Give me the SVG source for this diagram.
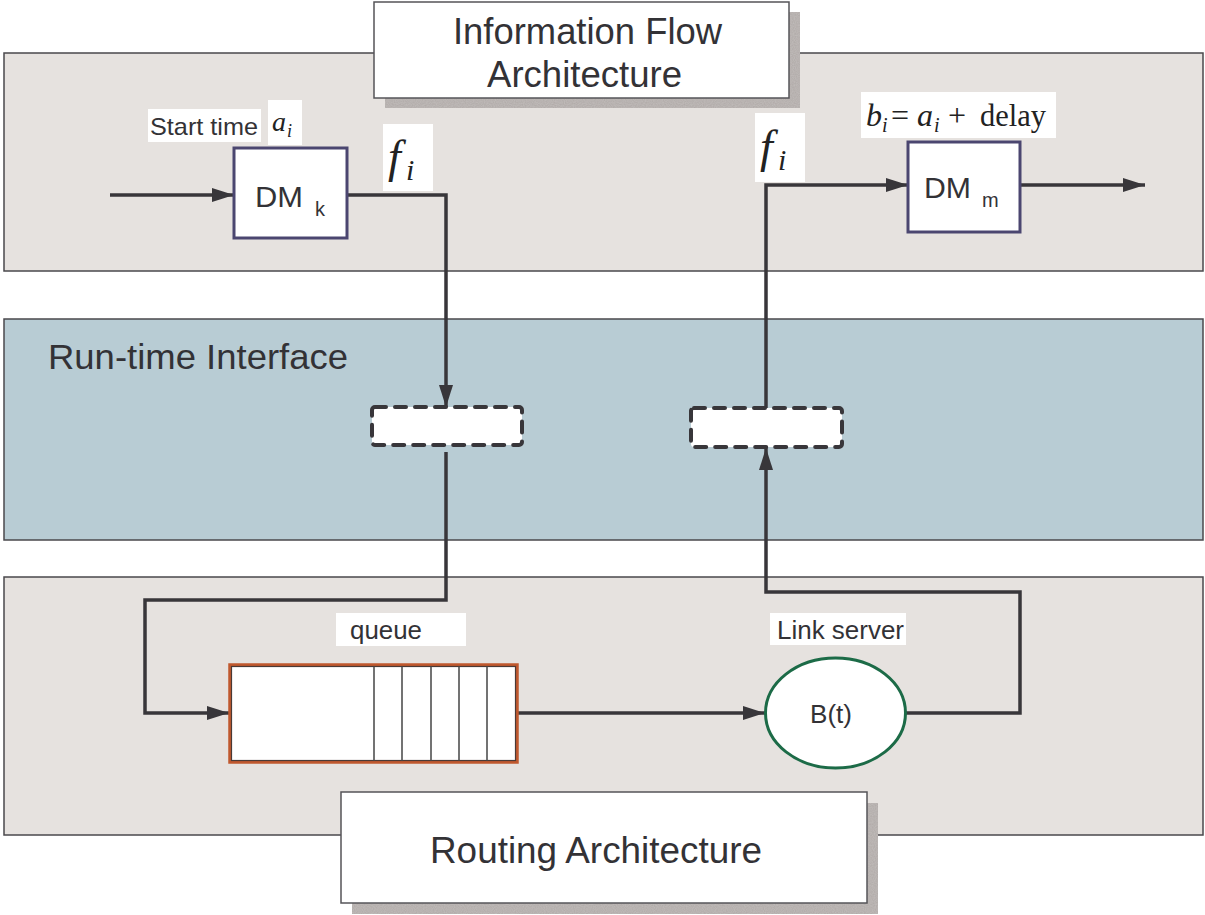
<svg xmlns="http://www.w3.org/2000/svg" width="1205" height="915" viewBox="0 0 1205 915">
  <defs>
    <style>
      .band { stroke: #4a484c; stroke-width: 1.5; }
      .wire { fill: none; stroke: #38363a; stroke-width: 3.5; stroke-linejoin: miter; }
      .sans { font-family: "Liberation Sans", Arial, sans-serif; fill: #333236; }
      .serif { font-family: "Liberation Serif", "Times New Roman", serif; fill: #222; }
      .lbl { fill: #ffffff; }
      .dm { fill: #ffffff; stroke: #4b4670; stroke-width: 3; }
      .slot { fill: #ffffff; stroke: #38363a; stroke-width: 4; stroke-dasharray: 11 9; stroke-linecap: round; stroke-linejoin: round; }
      .shadow { fill: #aea7a5; }
      .title { fill: #ffffff; stroke: #555458; stroke-width: 1.5; }
      .div { stroke: #444; stroke-width: 1.5; }
    </style>
    <filter id="grain" x="0" y="0" width="100%" height="100%">
      <feTurbulence type="fractalNoise" baseFrequency="0.9" numOctaves="1" seed="3" result="n"/>
      <feColorMatrix in="n" type="matrix" values="0 0 0 0 0.62  0 0 0 0 0.6  0 0 0 0 0.59  0 0 0 0.6 0" result="c"/>
      <feComposite in="c" in2="SourceGraphic" operator="in" result="m"/>
      <feMerge><feMergeNode in="SourceGraphic"/><feMergeNode in="m"/></feMerge>
    </filter>
    <marker id="arrow" markerUnits="userSpaceOnUse" markerWidth="24" markerHeight="16" refX="22" refY="8" orient="auto">
      <path d="M0,1 L22,8 L0,15 z" fill="#38363a"/>
    </marker>
  </defs>

  <!-- layer bands -->
  <g id="band-information">
    <rect class="band" x="4" y="53" width="1199" height="218" fill="#e6e2df"/>
  </g>
  <g id="band-runtime">
    <rect class="band" x="4" y="319" width="1199" height="221" fill="#b8ccd4"/>
    <text class="sans" x="48" y="369" font-size="35" textLength="300" lengthAdjust="spacingAndGlyphs">Run-time Interface</text>
  </g>
  <g id="band-routing">
    <rect class="band" x="4" y="577" width="1199" height="258" fill="#e6e2df"/>
  </g>

  <!-- layer titles -->
  <g id="title-information">
    <rect class="shadow" x="385" y="12" width="415" height="96" filter="url(#grain)"/>
    <rect class="title" x="374" y="2" width="415" height="96"/>
    <text class="sans" x="453" y="44" font-size="36" textLength="269" lengthAdjust="spacingAndGlyphs">Information Flow</text>
    <text class="sans" x="487" y="87" font-size="36" textLength="195" lengthAdjust="spacingAndGlyphs">Architecture</text>
  </g>
  <g id="title-routing">
    <rect class="shadow" x="352" y="803" width="526" height="111" filter="url(#grain)"/>
    <rect class="title" x="341" y="792" width="526" height="111"/>
    <text class="sans" x="430" y="863" font-size="36" textLength="332" lengthAdjust="spacingAndGlyphs">Routing Architecture</text>
  </g>

  <!-- connectors -->
  <g id="connectors">
    <path class="wire" d="M110,195 H234" marker-end="url(#arrow)"/>
    <path class="wire" d="M347,195 H446 V407" marker-end="url(#arrow)"/>
    <path class="wire" d="M446,452 V600 H145 V713 H229" marker-end="url(#arrow)"/>
    <path class="wire" d="M517,713 H765" marker-end="url(#arrow)"/>
    <path class="wire" d="M906,713 H1020 V592 H766 V448" marker-end="url(#arrow)"/>
    <path class="wire" d="M766,408 V185 H908" marker-end="url(#arrow)"/>
    <path class="wire" d="M1020,185 H1145" marker-end="url(#arrow)"/>
  </g>

  <!-- decision makers -->
  <g id="dm-k">
    <rect class="dm" x="234" y="148" width="113" height="90"/>
    <text class="sans" x="255" y="207" font-size="30" textLength="48" lengthAdjust="spacingAndGlyphs">DM</text>
    <text class="sans" x="315" y="216" font-size="20">k</text>
  </g>
  <g id="dm-m">
    <rect class="dm" x="908" y="142" width="112" height="90"/>
    <text class="sans" x="924" y="198" font-size="30" textLength="47" lengthAdjust="spacingAndGlyphs">DM</text>
    <text class="sans" x="982" y="207" font-size="20">m</text>
  </g>

  <!-- labels in the information layer -->
  <g id="label-start">
    <rect class="lbl" x="148" y="109" width="113" height="33"/>
    <text class="sans" x="150" y="135" font-size="24" textLength="108" lengthAdjust="spacingAndGlyphs">Start time</text>
    <rect class="lbl" x="268" y="100" width="34" height="45"/>
    <text class="serif" x="272" y="131" font-size="28" font-style="italic">a</text>
    <text class="serif" x="287" y="137" font-size="18" font-style="italic">i</text>
  </g>
  <g id="label-f-left">
    <rect class="lbl" x="383" y="124" width="50" height="67"/>
    <text class="serif" x="388" y="172" font-size="46" font-style="italic">f</text>
    <text class="serif" x="406" y="180" font-size="30" font-style="italic">i</text>
  </g>
  <g id="label-f-right">
    <rect class="lbl" x="755" y="113" width="50" height="69"/>
    <text class="serif" x="760" y="162" font-size="46" font-style="italic">f</text>
    <text class="serif" x="778" y="170" font-size="30" font-style="italic">i</text>
  </g>
  <g id="label-arrival">
    <rect class="lbl" x="861" y="92" width="195" height="46"/>
    <text class="serif" x="866" y="126" font-size="32" font-style="italic">b</text>
    <text class="serif" x="882" y="132" font-size="20" font-style="italic">i</text>
    <text class="serif" x="891" y="126" font-size="32">=</text>
    <text class="serif" x="917" y="126" font-size="32" font-style="italic">a</text>
    <text class="serif" x="934" y="132" font-size="20" font-style="italic">i</text>
    <text class="serif" x="948" y="126" font-size="32">+</text>
    <text class="serif" x="980" y="126" font-size="32" textLength="66" lengthAdjust="spacingAndGlyphs">delay</text>
  </g>

  <!-- run-time interface slots -->
  <g id="slot-out">
    <rect class="slot" x="372" y="407" width="150" height="38" rx="3"/>
  </g>
  <g id="slot-in">
    <rect class="slot" x="691" y="408" width="151" height="39" rx="3"/>
  </g>

  <!-- routing layer -->
  <g id="queue">
    <rect class="lbl" x="336" y="613" width="130" height="33"/>
    <text class="sans" x="350" y="639" font-size="25" textLength="72" lengthAdjust="spacingAndGlyphs">queue</text>
    <rect x="230" y="665" width="287" height="97" fill="#ffffff" stroke="#c0582e" stroke-width="3.5"/>
    <rect x="231.5" y="666.5" width="284" height="94" fill="none" stroke="#4a3a36" stroke-width="1.2"/>
    <line class="div" x1="374" y1="666" x2="374" y2="761"/>
    <line class="div" x1="402" y1="666" x2="402" y2="761"/>
    <line class="div" x1="431" y1="666" x2="431" y2="761"/>
    <line class="div" x1="459" y1="666" x2="459" y2="761"/>
    <line class="div" x1="487" y1="666" x2="487" y2="761"/>
  </g>
  <g id="link-server">
    <rect class="lbl" x="770" y="613" width="136" height="32"/>
    <text class="sans" x="777" y="639" font-size="25" textLength="127" lengthAdjust="spacingAndGlyphs">Link server</text>
    <ellipse cx="835.5" cy="713" rx="70" ry="55" fill="#ffffff" stroke="#1c6b47" stroke-width="3"/>
    <text class="sans" x="810" y="723" font-size="25" textLength="42" lengthAdjust="spacingAndGlyphs">B(t)</text>
  </g>
</svg>
